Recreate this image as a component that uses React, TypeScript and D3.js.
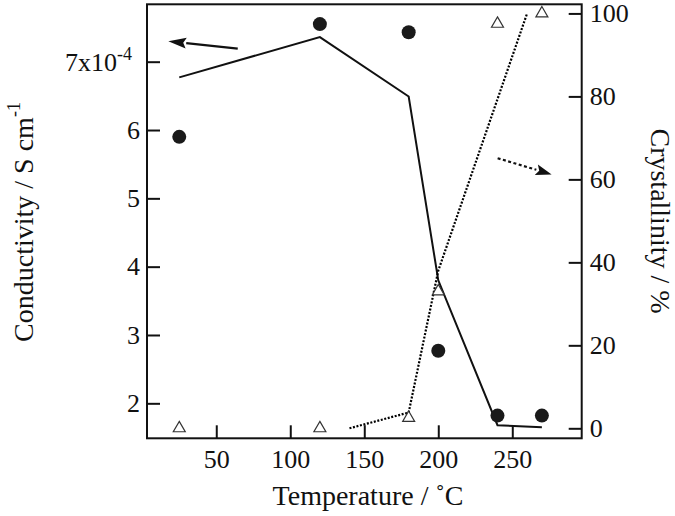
import React, { useEffect, useRef } from 'react';
import * as d3 from 'd3';

// measured points (temperature in °C)
const temps = [25, 120, 180, 200, 240, 270];
const conductivity = [5.9, 7.55, 7.43, 2.77, 1.82, 1.82]; // x1e-4 S/cm
const crystallinity = [0, 0, 2.5, 33, 97.5, 100]; // %

// solid guide line for conductivity
const fitTemps = [25, 120, 180, 200, 240, 270];
const fitConductivity = [6.77, 7.36, 6.49, 3.8, 1.68, 1.65];

// dotted guide line for crystallinity
const guideTemps = [140, 180, 200, 260];
const guideCrystallinity = [0, 3.8, 38, 100];

const xTicks = [50, 100, 150, 200, 250];
const leftTicks = [2, 3, 4, 5, 6, 7];
const rightTicks = [0, 20, 40, 60, 80, 100];

const FONT = '"Liberation Serif", "Times New Roman", serif';

const App = () => {
  const svgRef = useRef<SVGSVGElement>(null);

  useEffect(() => {
    const svg = d3.select(svgRef.current);
    svg.selectAll('*').remove();

    const left = 147, right = 581.7, top = 4.3, bottom = 438.3;

    const x = d3.scaleLinear().domain([3.2, 296.9]).range([left, right]);
    const yL = d3.scaleLinear().domain([1.488, 7.84]).range([bottom, top]);
    const yR = d3.scaleLinear().domain([-2.41, 102.2]).range([bottom, top]);

    // axes, ticks pointing inward
    const xAxis = d3.axisBottom(x).tickValues(xTicks).tickSizeInner(-13).tickSizeOuter(0).tickPadding(11);
    const lAxis = d3.axisLeft(yL).tickValues(leftTicks).tickSizeInner(-13).tickSizeOuter(0).tickPadding(7)
      .tickFormat(d => (d === 7 ? '' : String(d)));
    const rAxis = d3.axisRight(yR).tickValues(rightTicks).tickSizeInner(-13).tickSizeOuter(0).tickPadding(8);

    const styleAxis = (g: any) => {
      g.select('.domain').remove();
      g.selectAll('line').attr('stroke', '#111').attr('stroke-width', 2);
      g.selectAll('text').attr('font-family', FONT).attr('font-size', 26).attr('fill', '#111');
    };

    svg.append('g').attr('transform', `translate(0,${bottom})`).call(xAxis).call(styleAxis);
    svg.append('g').attr('transform', `translate(${left},0)`).call(lAxis).call(styleAxis);
    svg.append('g').attr('transform', `translate(${right},0)`).call(rAxis).call(styleAxis);

    // 7x10^-4 label
    const lab7 = svg.append('text')
      .attr('x', left - 15)
      .attr('y', yL(7) + 9)
      .attr('text-anchor', 'end')
      .attr('font-family', FONT)
      .attr('font-size', 26)
      .attr('fill', '#111');
    lab7.append('tspan').text('7x10');
    lab7.append('tspan').attr('font-size', 18).attr('dy', -11).text('-4');

    // frame
    svg.append('rect')
      .attr('x', left).attr('y', top)
      .attr('width', right - left).attr('height', bottom - top)
      .attr('fill', 'none').attr('stroke', '#111').attr('stroke-width', 2);

    // solid line
    const fitLine = d3.line<number>()
      .x((d, i) => x(fitTemps[i]))
      .y(d => yL(d));
    svg.append('path')
      .attr('d', fitLine(fitConductivity))
      .attr('fill', 'none').attr('stroke', '#111').attr('stroke-width', 2);

    // dotted line
    const guideLine = d3.line<number>()
      .x((d, i) => x(guideTemps[i]))
      .y(d => yR(d));
    svg.append('path')
      .attr('d', guideLine(guideCrystallinity))
      .attr('fill', 'none').attr('stroke', '#000').attr('stroke-width', 2.2)
      .attr('stroke-dasharray', '2,1.6');

    // circles
    svg.selectAll('.pt')
      .data(conductivity)
      .enter()
      .append('circle')
      .attr('class', 'pt')
      .attr('cx', (d, i) => x(temps[i]))
      .attr('cy', d => yL(d))
      .attr('r', 7)
      .attr('fill', '#1a1a1a');

    // triangles
    const tri = d3.symbol().type(d3.symbolTriangle).size(62);
    svg.selectAll('.tri')
      .data(crystallinity)
      .enter()
      .append('path')
      .attr('class', 'tri')
      .attr('d', tri)
      .attr('transform', (d, i) => `translate(${x(temps[i])},${yR(d)})`)
      .attr('fill', 'white').attr('stroke', '#333').attr('stroke-width', 1.2);

    // arrows
    const arrow = (x1: number, y1: number, x2: number, y2: number, dash: string | null, headLen: number) => {
      const ang = Math.atan2(y2 - y1, x2 - x1);
      const bx = x2 - headLen * Math.cos(ang), by = y2 - headLen * Math.sin(ang);
      const ln = svg.append('line')
        .attr('x1', x1).attr('y1', y1).attr('x2', bx).attr('y2', by)
        .attr('stroke', '#111').attr('stroke-width', 2.2);
      if (dash) ln.attr('stroke-dasharray', dash);
      const w = 5.5;
      const px = -Math.sin(ang) * w, py = Math.cos(ang) * w;
      svg.append('path')
        .attr('d', `M${x2},${y2}L${bx + px},${by + py}L${bx + 3 * Math.cos(ang)},${by + 3 * Math.sin(ang)}L${bx - px},${by - py}Z`)
        .attr('fill', '#111');
    };
    arrow(x(64.5), yL(7.19), x(17.6), yL(7.30), null, 18);
    arrow(x(240.1), yR(65.1), x(276.6), yR(61.2), '3,2.5', 16);

    // axis titles
    svg.append('text')
      .attr('x', 368).attr('y', 505)
      .attr('text-anchor', 'middle')
      .attr('font-family', FONT).attr('font-size', 28).attr('fill', '#111')
      .text('Temperature / ˚C');

    const lt = svg.append('text')
      .attr('transform', 'translate(33,222) rotate(-90)')
      .attr('text-anchor', 'middle')
      .attr('font-family', FONT).attr('font-size', 28).attr('fill', '#111');
    lt.append('tspan').text('Conductivity / S cm');
    lt.append('tspan').attr('font-size', 18).attr('dy', -13).text('-1');

    svg.append('text')
      .attr('transform', 'translate(651,221) rotate(90)')
      .attr('text-anchor', 'middle')
      .attr('font-family', FONT).attr('font-size', 28).attr('fill', '#111')
      .text('Crystallinity / %');
  }, []);

  return (
    <svg
      ref={svgRef}
      width={675}
      height={516}
      style={{ position: 'absolute', left: 0, top: 0, background: 'white' }}
    />
  );
};

export default App;
